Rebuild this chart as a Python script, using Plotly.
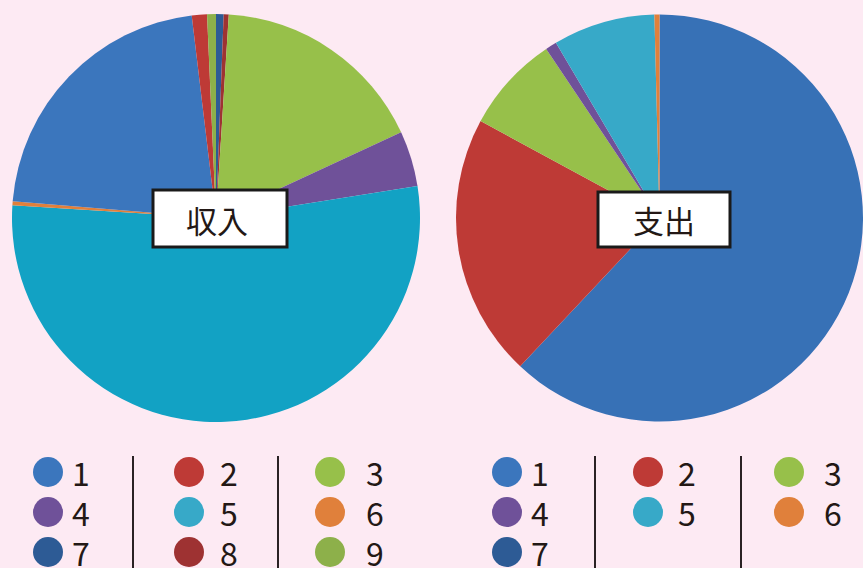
import plotly.graph_objects as go

W, H = 863, 568

# ---- data ----
categories = ["1", "2", "3", "4", "5", "6", "7", "8", "9"]
income_values = [21.8, 1.2, 17.1, 4.4, 53.5, 0.3, 0.6, 0.4, 0.7]   # 収入 (%)
expense_values = [62.0, 20.9, 7.7, 0.9, 8.1, 0.4]                  # 支出 (%)
income_order = ["7", "8", "3", "4", "5", "6", "1", "2", "9"]       # clockwise from 12 o'clock
expense_order = ["1", "2", "3", "4", "5", "6"]
titles = ["収入", "支出"]

colors = {"1": "#3b76bd", "2": "#be3a36", "3": "#97c04a", "4": "#6f5199",
          "5": "#37a9c8", "6": "#e0803b", "7": "#2d5b95", "8": "#9e3232",
          "9": "#8db04a"}
slice_override_income = {"5": "#12a2c4"}
slice_override_expense = {"1": "#3771b6"}

BG = "#fdeaf3"
TXT = "#231815"

def px_x(x):
    return x / W

def px_y(y):
    return 1 - y / H

inc_map = dict(zip(categories, income_values))
exp_map = dict(zip(categories, expense_values))

fig = go.Figure()

fig.add_trace(go.Pie(
    labels=income_order,
    values=[inc_map[c] for c in income_order],
    marker=dict(colors=[slice_override_income.get(c, colors[c]) for c in income_order],
                line=dict(width=0)),
    sort=False, direction="clockwise", rotation=0,
    textinfo="none", hoverinfo="skip", showlegend=False,
    domain=dict(x=[px_x(12), px_x(420)], y=[px_y(422), px_y(14)]),
))
fig.add_trace(go.Pie(
    labels=expense_order,
    values=[exp_map[c] for c in expense_order],
    marker=dict(colors=[slice_override_expense.get(c, colors[c]) for c in expense_order],
                line=dict(width=0)),
    sort=False, direction="clockwise", rotation=0,
    textinfo="none", hoverinfo="skip", showlegend=False,
    domain=dict(x=[px_x(456), 1.0], y=[px_y(422), px_y(14)]),
))

shapes = []
annotations = []

# title boxes
boxes = [(153, 190, 287, 247, 217, 220), (598, 192, 730, 247, 664, 220)]
for (x0, y0, x1, y1, tx, ty), t in zip(boxes, titles):
    shapes.append(dict(type="rect", xref="paper", yref="paper",
                       x0=px_x(x0), x1=px_x(x1), y0=px_y(y1), y1=px_y(y0),
                       fillcolor="white", line=dict(color="#1a1a1a", width=3), layer="above"))
    annotations.append(dict(text=t, xref="paper", yref="paper", x=px_x(tx), y=px_y(ty),
                            showarrow=False, xanchor="center", yanchor="middle",
                            font=dict(family="Noto Sans CJK JP", size=31, color=TXT)))

# custom legends
rows_y = [472, 512, 552]
legends = [
    dict(circle_x=[48, 189, 330], text_x=[81, 229, 375], sep_x=[133, 278],
         items=categories),
    dict(circle_x=[507, 648, 789], text_x=[540, 687, 833], sep_x=[595, 741],
         items=categories[:6] + [categories[6]]),
]
R = 15
for lg in legends:
    for i, c in enumerate(lg["items"]):
        col, row = i % 3, i // 3
        cx, cy = lg["circle_x"][col], rows_y[row]
        shapes.append(dict(type="circle", xref="paper", yref="paper",
                           x0=px_x(cx - R), x1=px_x(cx + R), y0=px_y(cy + R), y1=px_y(cy - R),
                           fillcolor=colors[c], line=dict(width=0)))
        annotations.append(dict(text=c, xref="paper", yref="paper",
                                x=px_x(lg["text_x"][col]), y=px_y(cy),
                                showarrow=False, xanchor="center", yanchor="middle",
                                height=34, valign="middle",
                                font=dict(family="Noto Sans CJK JP", size=32, color=TXT)))
    for sx in lg["sep_x"]:
        shapes.append(dict(type="line", xref="paper", yref="paper",
                           x0=px_x(sx), x1=px_x(sx), y0=px_y(456), y1=0,
                           line=dict(color="#2a2224", width=2)))

fig.update_layout(
    width=W, height=H,
    margin=dict(l=0, r=0, t=0, b=0),
    paper_bgcolor=BG, plot_bgcolor=BG,
    shapes=shapes, annotations=annotations,
    showlegend=False,
)

fig.write_html("out.html")
